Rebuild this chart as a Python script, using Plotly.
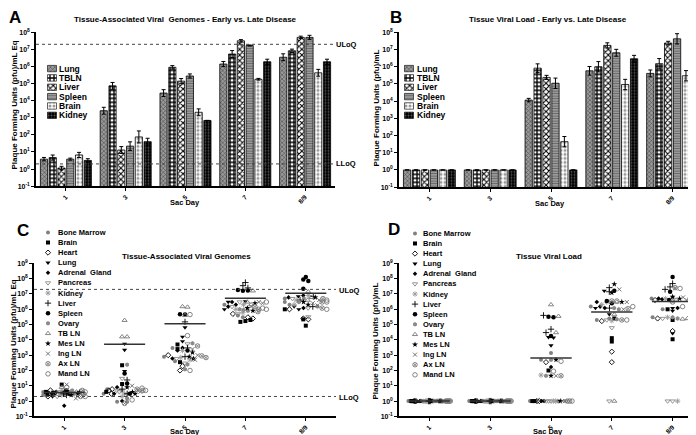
import math

import plotly.graph_objects as go

W, H = 696, 435
FONT = "Liberation Sans, Arial, sans-serif"

DAYS = ["1", "3", "5", "7", "8/9"]
BAR_TISSUES = ["Lung", "TBLN", "Liver", "Spleen", "Brain", "Kidney"]

# panel A - tissue genomes, rows follow BAR_TISSUES, columns follow DAYS
A_MEANS = [
    [3.8, 2600, 2.8e4, 1.4e6, 3.5e6],
    [4.7, 7.4e4, 9e5, 5.4e6, 8.3e6],
    [1.15, 13, 1.4e5, 3.2e7, 5.1e7],
    [3.8, 22, 2.8e5, 1.7e7, 5.1e7],
    [6.7, 76, 2100, 1.8e5, 4.3e5],
    [3.2, 40, 700, 1.9e6, 1.9e6],
]
# error bar half length, in decades
A_ERR = [
    [0.1, 0.2, 0.2, 0.15, 0.2],
    [0.15, 0.2, 0.1, 0.2, 0.1],
    [0.1, 0.2, 0.15, 0.07, 0.07],
    [0.06, 0.25, 0.12, 0.03, 0.12],
    [0.15, 0.35, 0.2, 0.05, 0.2],
    [0.1, 0.2, 0, 0.15, 0.15],
]

# panel B - tissue viral load
B_MEANS = [
    [1, 1, 1.15e4, 5.8e5, 4.1e5],
    [1, 1, 8.3e5, 1e6, 1.5e6],
    [1, 1, 2.4e5, 1.75e7, 2.4e7],
    [1, 1, 1.1e5, 6.5e6, 4.2e7],
    [1, 1, 44, 9.3e4, 3e5],
    [1, 1, 1, 2.9e6, 3.4e5],
]
B_ERR = [
    [0, 0, 0.1, 0.25, 0.2],
    [0, 0, 0.25, 0.3, 0.3],
    [0, 0, 0.12, 0.15, 0.1],
    [0, 0, 0.3, 0.2, 0.3],
    [0, 0, 0.3, 0.3, 0.3],
    [0, 0, 0, 0.2, 0.2],
]

SCATTER_TISSUES = [
    "Bone Marrow", "Brain", "Heart", "Lung", "Adrenal\u00a0 Gland", "Pancreas",
    "Kidney", "Liver", "Spleen", "Ovary", "TB LN", "Mes LN", "Ing LN", "Ax LN",
    "Mand LN",
]

# panel C - per animal genomes, one list per tissue (SCATTER_TISSUES order)
C_DAY1 = [
    [4, 3, 2.5], [12, 4, 3], [3, 2, 5], [3, 4, 2], [0.5, 3, 4],
    [2, 3, 4], [3, 2.5, 5], [2.5, 3, 4], [5, 4, 3], [4, 5, 3],
    [8, 3, 4], [3, 4, 2.5], [12, 1.5, 3], [5, 2, 3], [8, 2, 4],
]
C_DAY3 = [
    [6, 3, 0.9], [220, 13, 4], [5, 3, 6], [5500, 2200, 90], [1, 3, 8],
    [30, 5, 4], [5, 3, 2], [24, 6, 3], [63, 14, 3], [240, 1.5, 0.9],
    [1.9e5, 1.6e4, 1.6e4], [8, 4, 3], [10, 5, 4], [0.7, 5, 6], [1.2, 5, 7],
]
C_DAY5 = [
    [3000, 800, 400], [5000, 2500, 350], [1000, 190, 100], [6.5e4, 1.6e4, 8000],
    [3000, 2000, 600], [5500, 600, 300], [2000, 700, 500], [1.5e5, 3000, 800],
    [4.7e5, 4.5e5, 2000], [6000, 250, 120], [1.5e6, 1.4e6, 4e5], [1500, 800, 600],
    [2500, 1000, 500], [4000, 900, 700], [4.5e5, 1.9e4, 100],
]
C_DAY7 = [
    [4e5, 3e5, 2e6], [1.5e5, 1.7e5, 2e5], [5e5, 3e5, 2.5e5], [3.3e6, 3e6, 1e6],
    [3e6, 1.5e6, 2e6], [3e6, 1.5e6, 5e5], [2e6, 6e5, 1e6], [5.6e7, 3.5e7, 2.5e7],
    [1.8e7, 1.6e7, 1.7e7], [1e6, 9e5, 8e5], [1.6e7, 3e6, 2e6], [2.5e6, 1.2e6, 8e5],
    [3e6, 2.5e6, 1.5e6], [1.5e6, 1e6, 7e5], [3e6, 1.2e6, 1e6],
]
C_DAY89 = [
    [5e6, 3e6, 2e6], [1e6, 2.2e5, 8.5e4], [2.5e5, 1e6, 2.2e5], [7e6, 1.5e6, 1e6],
    [8e6, 1.2e6, 6e6], [5e6, 3.2e5, 1.2e6], [8e6, 4e6, 2e6], [7e6, 4e6, 1.5e6],
    [1.3e8, 9e7, 7e7, 2.2e7], [5e6, 3e6, 1.5e6], [1.4e7, 4e6, 6e6], [6e6, 3e6, 2e6],
    [4e6, 2.5e6, 1.8e6], [5e6, 3e6, 1.2e6], [4e6, 3e6, 1e6],
]
C_CENTER = [3.7, 5.1e3, 1.15e5, 5.2e6, 1.1e7]

# panel D - per animal viral load (undetected plotted at 1)
D_DAY1 = [
    [1, 1, 1], [1, 1, 1], [1, 1, 1], [1, 1, 1], [1, 1, 1],
    [1, 1, 1], [1, 1, 1], [1, 1, 1], [1, 1, 1], [1, 1, 1],
    [1, 1, 1], [1, 1, 1], [1, 1, 1], [1, 1, 1], [1, 1, 1],
]
D_DAY3 = [
    [1, 1, 1], [1, 1, 1], [1, 1, 1], [1, 1, 1], [1, 1, 1],
    [1, 1, 1], [1, 1, 1], [1, 1, 1], [1, 1, 1], [1, 1, 1],
    [1, 1, 1], [1, 1, 1], [1, 1, 1], [1, 1, 1], [1, 1, 1],
]
D_DAY5 = [
    [1400, 500, 1], [100, 1, 1], [350, 1, 1], [1.5e4, 1.4e4, 4300], [170, 1, 1],
    [1, 1, 1], [50, 1, 1], [4e5, 5e4, 3e4], [3.2e5, 3e5, 1.8e4], [500, 45, 1],
    [2e6, 3.5e5, 3e4], [500, 45, 1], [45, 1, 1], [45, 1, 1], [400, 90, 1],
]
D_DAY7 = [
    [2.5e5, 2e5, 1.5e6], [2.5e5, 1.3e4, 7.8e3], [1.7e5, 1.7e3, 350], [1.6e7, 1.2e6, 4.7e5],
    [1.5e6, 1.2e6, 3e6], [2e5, 6.2e4, 1], [2e6, 1.8e5, 3e6], [2.6e7, 1.4e7, 1.2e6],
    [1.6e7, 3.5e6, 2.5e6], [1.2e6, 2.2e5, 1e6], [3e6, 4.5e5, 1], [4.4e7, 1.2e7, 3e6],
    [2e7, 3e6, 1e6], [3.5e6, 1.1e6, 2e5], [3.5e6, 2e5, 1.5e6],
]
D_DAY89 = [
    [5e6, 1e6, 3e5], [1e6, 2e5, 1.1e4], [2.5e5, 3.8e4, 4e6], [1.2e6, 8e5, 2.7e4],
    [5e6, 4.5e6, 1.2e6], [2.5e5, 1, 1], [3e5, 5e6, 1], [4.8e7, 2.9e7, 2e7],
    [1.3e8, 1.4e7, 4e6], [6e6, 3e5, 2.5e5], [2.3e5, 2.5e5, 4e6], [6.6e6, 3.5e5, 5e6],
    [2.3e7, 6e6, 4e6], [2.6e7, 5e6, 3e6], [2.3e7, 3.5e6, 1.5e6],
]
D_CENTER = [1, 1, 660, 6.6e5, 3.2e6]

ULOQ, LLOQ = 2e7, 2

BAR_STYLE = {
    "Lung": dict(color="#9a9a9a", shape="x", fg="#4a4a4a", size=3, solidity=0.35),
    "TBLN": dict(color="white", shape="+", fg="black", size=4, solidity=0.55),
    "Liver": dict(color="white", shape="x", fg="black", size=4, solidity=0.45),
    "Spleen": dict(color="#a0a0a0", shape="-", fg="#666666", size=2.5, solidity=0.4),
    "Brain": dict(color="white", shape=".", fg="#999999", size=4, solidity=0.45),
    "Kidney": dict(color="black", shape=".", fg="#555555", size=3, solidity=0.3),
}

# symbol, colour, size
SCATTER_STYLE = [
    ("circle", "#808080", 4),
    ("square", "black", 4),
    ("diamond-open", "black", 4),
    ("triangle-down", "black", 4.5),
    ("diamond", "black", 3.5),
    ("triangle-down-open", "#8a8a8a", 4.5),
    ("asterisk-open", "#9a9a9a", 4.5),
    ("cross-thin-open", "black", 4.5),
    ("circle", "black", 4.5),
    ("hexagon", "#8a8a8a", 4.5),
    ("triangle-up-open", "#777777", 4.5),
    ("star", "black", 4.5),
    ("x-thin-open", "#666666", 4),
    ("circle-x-open", "#777777", 4.5),
    ("circle-open", "#777777", 4.5),
]


def px(x, y):
    return x / W, 1 - y / H


def swarm(values, px_per_dec, px_per_unit, row_px=4.5, step_px=5, half_px=21):
    """GraphPad-like scatter spread: points on the same row spread sideways."""
    ys = [math.log10(v) * px_per_dec for v in values]
    rows = {}
    for k in range(len(values)):
        rows.setdefault(round(ys[k] / row_px), []).append(k)
    offsets = [0.0] * len(values)
    for members in rows.values():
        n = len(members)
        step = step_px if n < 2 else min(step_px, 2 * half_px / (n - 1))
        for j, k in enumerate(members):
            offsets[k] = (j - (n - 1) / 2) * step / px_per_unit
    return offsets


def marker(sym, col, size):
    return dict(symbol=sym, color=col, size=size,
                line=dict(color=col, width=0.9 if "open" in sym else 0))


fig = go.Figure()

# ---- bar panels
for i, tissue in enumerate(BAR_TISSUES):
    st = BAR_STYLE[tissue]
    for means, errs, xa, ya in [(A_MEANS, A_ERR, "x", "y"), (B_MEANS, B_ERR, "x2", "y2")]:
        hi = [m * (10 ** e - 1) if e else None for m, e in zip(means[i], errs[i])]
        lo = [m * (1 - 10 ** -e) if e else None for m, e in zip(means[i], errs[i])]
        fig.add_trace(go.Bar(
            x=list(range(len(DAYS))), y=means[i], xaxis=xa, yaxis=ya,
            offsetgroup=str(i), showlegend=False, name=tissue,
            marker=dict(
                color=st["color"], line=dict(color="black", width=0.8),
                pattern=dict(shape=st["shape"], fgcolor=st["fg"], bgcolor=st["color"],
                             size=st["size"], solidity=st["solidity"], fillmode="replace"),
            ),
            error_y=dict(type="data", symmetric=False, array=hi, arrayminus=lo,
                         color="black", thickness=1, width=2),
        ))

# ---- scatter panels
for days_data, center, xa, ya, ppu in [
    ([C_DAY1, C_DAY3, C_DAY5, C_DAY7, C_DAY89], C_CENTER, "x3", "y3", 60.4),
    ([D_DAY1, D_DAY3, D_DAY5, D_DAY7, D_DAY89], D_CENTER, "x4", "y4", 60.8),
]:
    xs = [[] for _ in SCATTER_TISSUES]
    ys = [[] for _ in SCATTER_TISSUES]
    for d, day_vals in enumerate(days_data):
        flat = [(t, v) for t, vals in enumerate(day_vals) for v in vals]
        offs = swarm([v for _, v in flat], 15.55, ppu)
        for (t, v), o in zip(flat, offs):
            xs[t].append(d + o)
            ys[t].append(v)
    for t, name in enumerate(SCATTER_TISSUES):
        fig.add_trace(go.Scatter(
            x=xs[t], y=ys[t], xaxis=xa, yaxis=ya, mode="markers", name=name,
            showlegend=False, cliponaxis=False, marker=marker(*SCATTER_STYLE[t]),
        ))
    lx, ly = [], []
    for d, c in enumerate(center):
        lx += [d - 0.34, d + 0.34, None]
        ly += [c, c, None]
    fig.add_trace(go.Scatter(x=lx, y=ly, xaxis=xa, yaxis=ya, mode="lines",
                             line=dict(color="#333333", width=1.5), showlegend=False))

# limit of quantitation lines on A and C
for xa, ya in [("x", "y"), ("x3", "y3")]:
    for lim in (ULOQ, LLOQ):
        fig.add_trace(go.Scatter(x=[-0.5, 4.5], y=[lim, lim], xaxis=xa, yaxis=ya,
                                 mode="lines", showlegend=False,
                                 line=dict(color="#444444", width=1, dash="dot")))

# ---- hand-made legends on a pixel overlay axis
for lx0, ly0 in [(44, 57.5), (401, 57.5)]:
    for i, tissue in enumerate(BAR_TISSUES):
        st = BAR_STYLE[tissue]
        fig.add_trace(go.Bar(
            x=[lx0], y=[6.5], base=[ly0 + i * 9.5 - 3.25], width=[9],
            xaxis="x5", yaxis="y5", showlegend=False, offsetgroup="legend",
            marker=dict(
                color=st["color"], line=dict(color="black", width=0.6),
                pattern=dict(shape=st["shape"], fgcolor=st["fg"], bgcolor=st["color"],
                             size=st["size"], solidity=st["solidity"], fillmode="replace"),
            ),
        ))
for lx0, ly0 in [(40, 224), (407, 225)]:
    for t in range(len(SCATTER_TISSUES)):
        fig.add_trace(go.Scatter(
            x=[lx0], y=[ly0 + t * 10.27], xaxis="x5", yaxis="y5", mode="markers",
            showlegend=False, marker=marker(*SCATTER_STYLE[t]),
        ))

annotations = []


def text(x, y, s, size, xanchor="center", angle=0, bold=True):
    ax, ay = px(x, y)
    annotations.append(dict(
        x=ax, y=ay, xref="paper", yref="paper", text=s, showarrow=False,
        xanchor=xanchor, yanchor="middle", textangle=angle, borderpad=0,
        font=dict(family=FONT, size=size, color="black", weight="bold" if bold else "normal"),
    ))


for lx0, ly0 in [(50, 57.5), (408, 57.5)]:
    for i, tissue in enumerate(BAR_TISSUES):
        text(lx0, ly0 + i * 9.5, tissue, 8.5, xanchor="left")
for lx0, ly0 in [(49, 224), (414, 225)]:
    for t, name in enumerate(SCATTER_TISSUES):
        text(lx0, ly0 + t * 10.27, name, 7.5, xanchor="left")

text(7, 6, "A", 17)
text(388, 6, "B", 17)
text(15, 222, "C", 17)
text(386, 221, "D", 17)
text(177, 8, "Tissue-Associated Viral\u00a0 Genomes - Early vs. Late Disease", 8)
text(540, 7.5, "Tissue Viral Load - Early vs. Late Disease", 8)
text(178, 248, "Tissue-Associated Viral Genomes", 8)
text(541, 248, "Tissue Viral Load", 8)
text(6, 95, "Plaque Forming Units (pfu)/mL Eq", 8, angle=-90)
text(368, 98, "Plaque Forming Units (pfu)/mL", 8, angle=-90)
text(6, 338, "Plaque Forming Units (pfu)/mL Eq", 8, angle=-90)
text(368, 335, "Plaque Forming Units (pfu)/mL", 8, angle=-90)
text(177, 194, "Sac Day", 7.5)
text(542, 195, "Sac Day", 7.5)
text(177, 426.5, "Sac Day", 7.5)
text(540, 426.5, "Sac Day", 7.5)
text(338, 33, "ULoQ", 7.5)
text(338, 154, "LLoQ", 7.5)
text(341, 283, "ULoQ", 7.5)
text(341, 392, "LLoQ", 7.5)


def yaxis(lo, hi, top, bottom, anchor):
    exps = list(range(lo, hi + 1))
    return dict(
        type="log", range=[lo, hi], domain=[1 - bottom / H, 1 - top / H], anchor=anchor,
        tickmode="array", tickvals=[10 ** e for e in exps],
        ticktext=["10<sup>%d</sup>" % e for e in exps],
        showline=True, linecolor="black", linewidth=1.5, ticks="outside", ticklen=3,
        tickwidth=1, tickcolor="black", showgrid=False, zeroline=False,
        tickfont=dict(family=FONT, size=7, color="black", weight="bold"),
    )


def xaxis(left, right, anchor):
    return dict(
        range=[-0.5, 4.5], domain=[left / W, right / W], anchor=anchor,
        tickmode="array", tickvals=list(range(len(DAYS))), ticktext=DAYS, tickangle=-45,
        showline=True, linecolor="black", linewidth=1.5, ticks="outside", ticklen=3,
        tickwidth=1, tickcolor="black", showgrid=False, zeroline=False,
        tickfont=dict(family=FONT, size=6.5, color="black", weight="bold"),
    )


fig.update_layout(
    width=W, height=H, margin=dict(l=0, r=0, t=0, b=0),
    paper_bgcolor="white", plot_bgcolor="rgba(0,0,0,0)",
    barmode="group", bargap=0.12, bargroupgap=0.18,
    showlegend=False, annotations=annotations,
    xaxis=xaxis(28, 327, "y"), yaxis=yaxis(-1, 8, 20.7, 177, "x"),
    xaxis2=xaxis(391, 695, "y2"), yaxis2=yaxis(-1, 8, 20.7, 178, "x2"),
    xaxis3=xaxis(26, 328, "y3"), yaxis3=yaxis(-1, 9, 255.5, 411, "x3"),
    xaxis4=xaxis(391, 695, "y4"), yaxis4=yaxis(-1, 9, 255.5, 411, "x4"),
    xaxis5=dict(domain=[0, 1], range=[0, W], visible=False, anchor="y5"),
    yaxis5=dict(domain=[0, 1], range=[H, 0], visible=False, anchor="x5"),
)

fig.write_html("out.html")
